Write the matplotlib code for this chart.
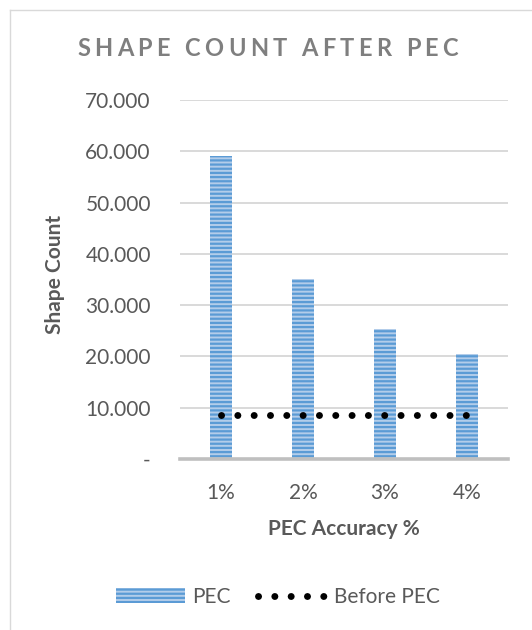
import matplotlib
matplotlib.use("Agg")
import matplotlib.pyplot as plt
from matplotlib.ticker import FuncFormatter, MultipleLocator
from matplotlib.lines import Line2D

categories = ["1%", "2%", "3%", "4%"]
pec_counts = [59100, 35100, 25300, 20500]
before_pec = [8600, 8600, 8600, 8600]

plt.rcParams["font.family"] = ["Lato", "DejaVu Sans"]
plt.rcParams["hatch.linewidth"] = 1.6

GREY = "#595959"
BAR_FACE = "#b3cdea"
BAR_HATCH = "#5b9bd5"
DOT_LW = 5.0
DOTS = (0, (0.01, 2.34))

fig = plt.figure(figsize=(5.32, 6.30), dpi=100)
ax = fig.add_axes([180 / 532, 1 - 459 / 630, 328 / 532, 359 / 630])

x = list(range(len(categories)))
ax.bar(x, pec_counts, width=0.26, color=BAR_FACE, edgecolor=BAR_HATCH,
       linewidth=0, hatch="----", label="PEC", zorder=2)
ax.plot(x, before_pec, color="black", linewidth=DOT_LW, linestyle=DOTS,
        dash_capstyle="round", label="Before PEC", zorder=3)

ax.set_xlim(-0.5, len(categories) - 0.5)
ax.set_ylim(0, 70000)
ax.yaxis.set_major_locator(MultipleLocator(10000))
ax.yaxis.set_major_formatter(FuncFormatter(
    lambda v, _: "-" if v == 0 else f"{v:,.0f}".replace(",", ".")))
ax.set_xticks(x, categories)

ax.grid(axis="y", color="#d9d9d9", linewidth=1.4, zorder=0)
ax.set_axisbelow(True)
for side in ["top", "right", "left"]:
    ax.spines[side].set_visible(False)
ax.spines["bottom"].set_color("#bfbfbf")
ax.spines["bottom"].set_linewidth(2.6)
ax.tick_params(axis="both", length=0, labelsize=15, labelcolor=GREY)
ax.tick_params(axis="y", pad=21)
ax.tick_params(axis="x", pad=17)

ax.set_ylabel("Shape Count", fontsize=15, fontweight="bold", color=GREY)
ax.yaxis.set_label_coords(-0.352, (459 - 274) / 359)
ax.set_xlabel("PEC Accuracy %", fontsize=15, fontweight="bold", color=GREY, labelpad=12)

# title with letter spacing, placed one character at a time
title = "SHAPE COUNT AFTER PEC"
renderer = fig.canvas.get_renderer()
title_kw = dict(fontsize=17, fontweight="bold", color="#7f7f7f")


def text_width(s):
    t = fig.text(0, 0, s, **title_kw)
    w = t.get_window_extent(renderer).width
    t.remove()
    return w


bar_w = text_width("||")
advances = [text_width("|" + c + "|") - bar_w for c in title]
left_px, right_px = 77, 458
tracking = (right_px - left_px - sum(advances)) / (len(title) - 1)
cur = left_px
for c, adv in zip(title, advances):
    fig.text(cur / 532, 1 - 48.5 / 630, c, ha="left", va="center", **title_kw)
    cur += adv + tracking

bar_handle = plt.Rectangle((0, 0), 1, 1, facecolor=BAR_FACE, edgecolor=BAR_HATCH,
                           linewidth=0, hatch="----")
line_handle = Line2D([], [], color="black", linewidth=DOT_LW, linestyle=DOTS,
                     dash_capstyle="round")
fig.legend([bar_handle, line_handle], ["PEC", "Before PEC"], loc="center",
           bbox_to_anchor=(278 / 532, 1 - 597 / 630), ncol=2, frameon=False,
           fontsize=15, labelcolor=GREY, handlelength=3.3, handleheight=0.75,
           handletextpad=0.35, columnspacing=1.3)

# chart frame
fig.add_artist(Line2D([10 / 532, 10 / 532], [0, 1 - 10 / 630], transform=fig.transFigure,
                      color="#d9d9d9", linewidth=1))
fig.add_artist(Line2D([10 / 532, 1], [1 - 10 / 630, 1 - 10 / 630], transform=fig.transFigure,
                      color="#d9d9d9", linewidth=1))

fig.savefig("out.png", dpi=100, facecolor="white")
